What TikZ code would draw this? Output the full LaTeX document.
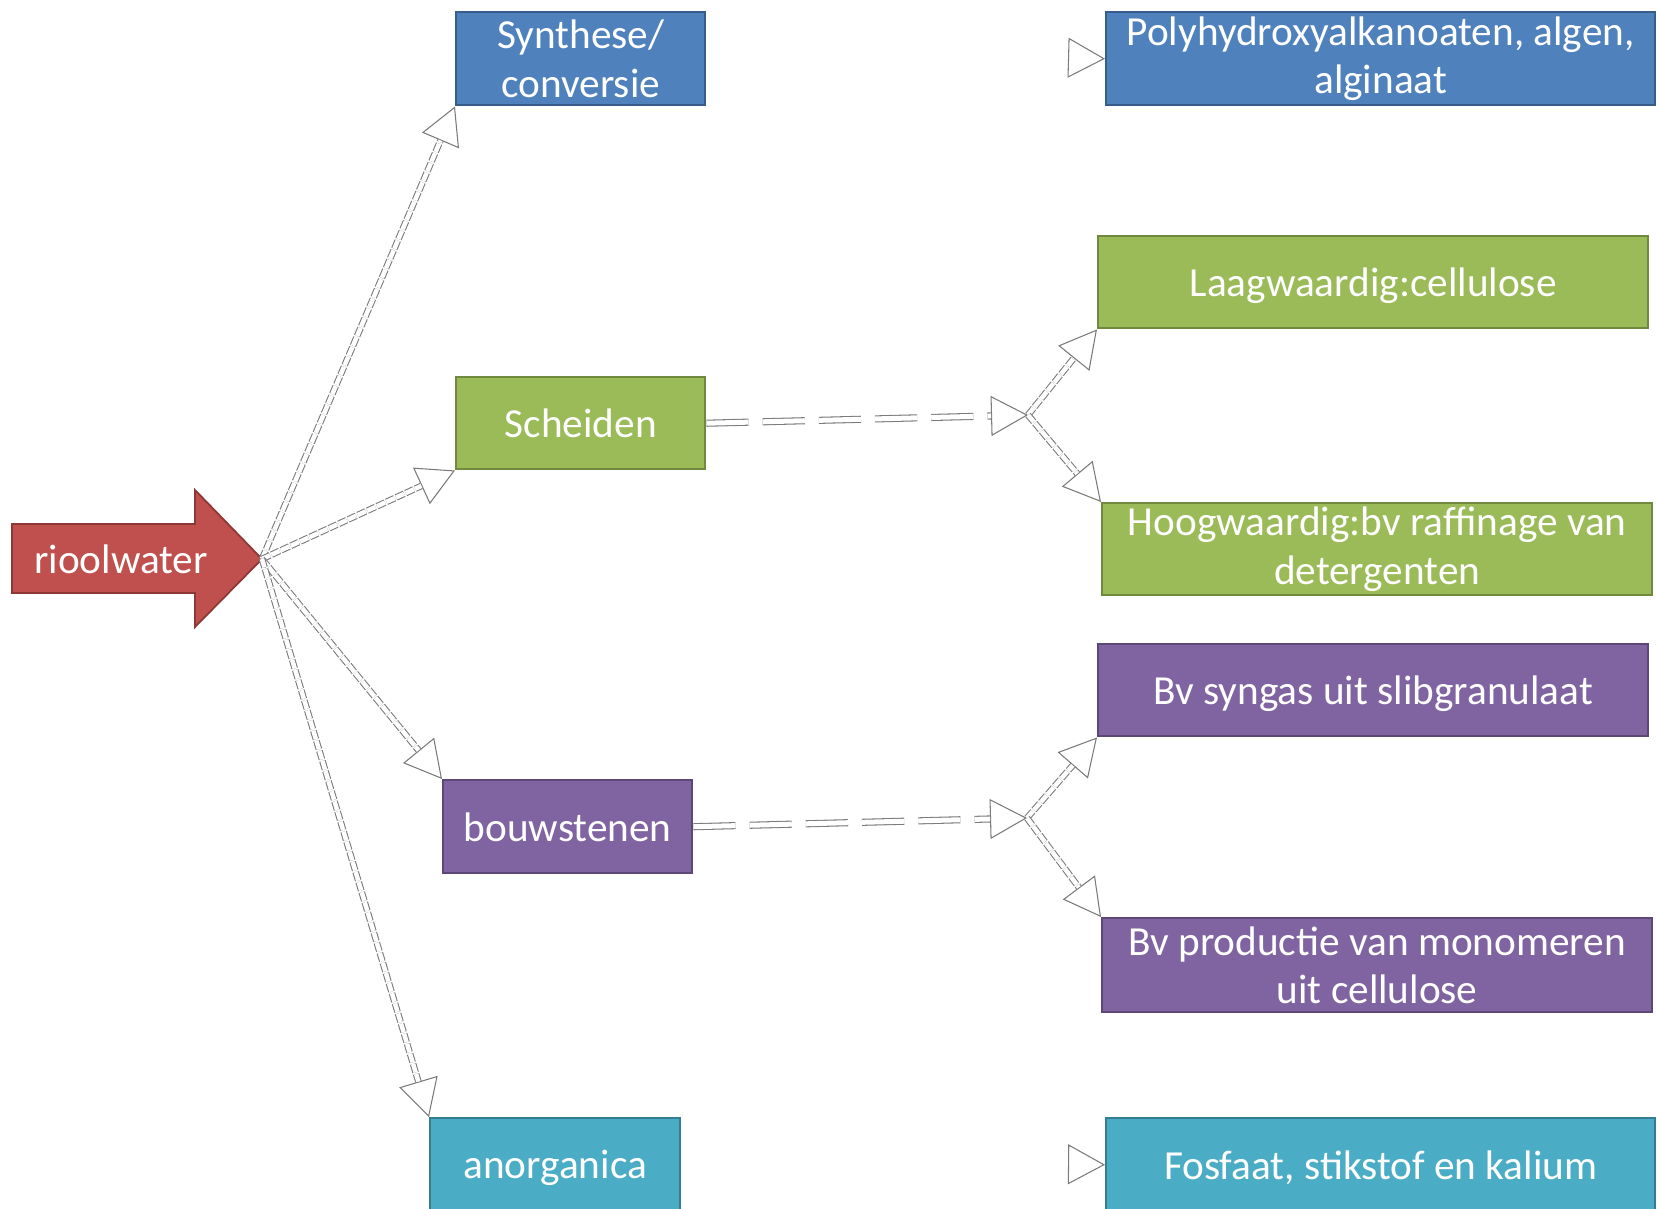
\documentclass[tikz,border=0pt]{standalone}
\usepackage{fontspec}
\setmainfont{Carlito}
\usetikzlibrary{arrows.meta}
\definecolor{cblue}{HTML}{4F81BD}
\definecolor{cblueD}{HTML}{385D8A}
\definecolor{cgreen}{HTML}{9BBB59}
\definecolor{cgreenD}{HTML}{71893F}
\definecolor{cpurple}{HTML}{8064A2}
\definecolor{cpurpleD}{HTML}{5C4776}
\definecolor{cteal}{HTML}{4BACC6}
\definecolor{ctealD}{HTML}{357D91}
\definecolor{cred}{HTML}{C0504D}
\definecolor{credD}{HTML}{8C3836}
\definecolor{cline}{HTML}{7A7A7A}
\begin{document}
\begin{tikzpicture}[x=0.02cm, y=-0.02cm,
  lbl/.style={text=white, font=\fontsize{23.5pt}{27.5pt}\selectfont, align=center},
  box/.style={lbl, line width=1.4pt, inner sep=0pt, anchor=north west},
  one/.style={text depth=0pt},
  bluebox/.style={box, fill=cblue, draw=cblueD},
  greenbox/.style={box, fill=cgreen, draw=cgreenD},
  purplebox/.style={box, fill=cpurple, draw=cpurpleD},
  tealbox/.style={box, fill=cteal, draw=ctealD},
  small/.style={minimum width=4.98cm, minimum height=1.86cm},
  large/.style={minimum width=11cm, minimum height=1.86cm},
  headline/.style={draw=white, line width=0.01pt,
    -{Triangle[length=0.74cm, width=0.8cm, fill=white, color=cline, line width=0.6pt]}},
  dline/.style={draw=cline, line width=0.6pt, double=white, double distance=0.09cm,
    shorten >=0.74cm, dash pattern=on 5pt off 1pt},
  dashline/.style={draw=cline, line width=0.6pt, double=white, double distance=0.1cm,
    shorten >=0.74cm, dash pattern=on 24pt off 8pt}
]
\useasboundingbox (0,0) rectangle (1657,1208);

% boxes
\node[bluebox, small] (synth) at (455,11) {Synthese/\\conversie};
\node[bluebox, large, minimum width=10.98cm] (poly) at (1105,11) {Polyhydroxyalkanoaten, algen,\\alginaat};
\node[greenbox, large, one, minimum height=1.84cm] (laag) at (1097,235) {Laagwaardig:cellulose};
\node[greenbox, small, one, minimum height=1.84cm] (sch) at (455,376) {Scheiden};
\node[greenbox, large, minimum height=1.84cm] (hoog) at (1101,502) {Hoogwaardig:bv raffinage van\\detergenten};
\node[purplebox, large, one, minimum height=1.84cm] (syn) at (1097,643) {Bv syngas uit slibgranulaat};
\node[purplebox, small, one] (bouw) at (442,779) {bouwstenen};
\node[purplebox, large, minimum height=1.88cm] (prod) at (1101,917) {Bv productie van monomeren\\uit cellulose};
\node[tealbox, small, one, minimum width=5cm] (anorg) at (429,1117) {anorganica};
\node[tealbox, large, one, minimum width=10.98cm] (fosf) at (1105,1117) {Fosfaat, stikstof en kalium};

% block arrow
\draw[fill=cred, draw=credD, line width=1pt]
  (12,524) -- (195,524) -- (195,490) -- (262,559) -- (195,627) -- (195,593) -- (12,593) -- cycle;
\coordinate (rtip) at (262,559);
\node[lbl] (riool) at (121,559) {rioolwater};

% junctions and free arrow starts
\coordinate (j1) at (1028,415);
\coordinate (j2) at (1027,818);
\coordinate (pin) at (1040,57);
\coordinate (fin) at (1040,1164);

% connectors from riool
\foreach \t in {synth.south west, sch.south west, bouw.north west, anorg.north west} {
  \draw[headline] (rtip) -- (\t);
  \draw[dline] (rtip) -- (\t);
}
% dashed connectors to junctions
\draw[headline] (sch.east) -- (j1);
\draw[dashline] (sch.east) -- (j1);
\draw[headline] (bouw.east) -- (j2);
\draw[dashline] (bouw.east) -- (j2);
% from junctions
\foreach \s/\t in {j1/laag.south west, j1/hoog.north west, j2/syn.south west, j2/prod.north west} {
  \draw[headline] (\s) -- (\t);
  \draw[dline] (\s) -- (\t);
}
% free arrow heads
\draw[headline] (pin) -- (poly.west);
\draw[headline] (fin) -- (fosf.west);
\end{tikzpicture}
\end{document}
